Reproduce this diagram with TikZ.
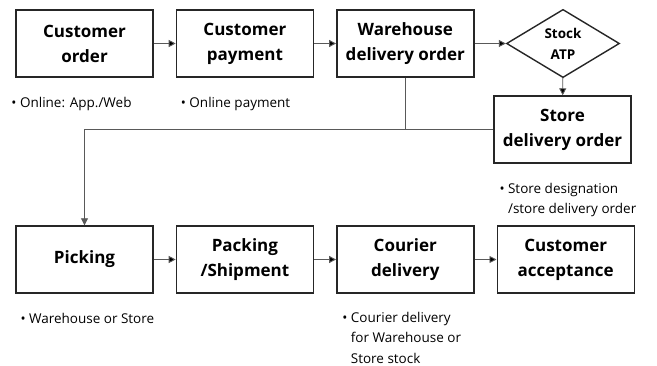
\documentclass[tikz,border=0pt]{standalone}
\usepackage{fontspec}
\setmainfont{Open Sans}
\usetikzlibrary{arrows.meta,positioning,shapes.geometric}
\tikzset{
    %Define standard arrow tip
    >={Triangle[length=7pt,width=7pt]},
    % Define arrow style
    pil/.style={
           ->,
           draw=black!65,
           line width=0.9pt,}
}

\begin{document}
\begin{tikzpicture}[
box/.style={rectangle, draw=black!85, line width=1.4pt, minimum width=137pt, minimum height=67pt, inner sep=0pt, align=center, font=\bfseries\fontsize{17}{25}\selectfont},
check/.style={diamond, draw=black!85, line width=1.4pt, minimum width=113pt, minimum height=67pt, inner sep=0pt, align=center, font=\bfseries\fontsize{13.5}{21}\selectfont},
note/.style={anchor=north west, align=left, inner sep=0pt, font=\fontsize{13.5}{20.5}\selectfont},
node distance=22pt,
]
\useasboundingbox (0pt,0pt) rectangle (657pt,-366pt);
%Nodes
\node[box](order) at (84.5pt,-43.5pt){Customer\\order};
\node[box](pay)[right=of order]{Customer\\payment};
\node[box](wh)[right=of pay]{Warehouse\\delivery order};
\node[check](atp) at (563pt,-43.5pt){Stock\\ATP};
\node[box](store) at (562.5pt,-129.5pt){Store\\delivery order};

\node[box](pick) at (84.5pt,-259.5pt){Picking};
\node[box](pack)[right=of pick]{Packing\\/Shipment};
\node[box](courier)[right=of pack]{Courier\\delivery};
\node[box](accept)[right=of courier]{Customer\\acceptance};

%Notes
\node[note] at ([xshift=-4pt,yshift=-19pt]order.south west){• Online: App./Web};
\node[note] at ([xshift=5pt,yshift=-19pt]pay.south west){• Online payment};
\node[note] at ([xshift=6pt,yshift=-19pt]store.south west){• Store designation\\\phantom{• }/store delivery order};
\node[note] at ([xshift=5pt,yshift=-19pt]pick.south west){• Warehouse or Store};
\node[note] at ([xshift=6pt,yshift=-18pt]courier.south west){• Courier delivery\\\phantom{• }for Warehouse or\\\phantom{• }Store stock};

%Connectors
\coordinate (join) at (wh.south |- store.west);
\path[pil] (order) edge (pay);
\path[pil] (pay) edge (wh);
\path[pil] (wh) edge (atp);
\path[pil] (atp) edge (store);
\draw[draw=black!65, line width=0.9pt] (wh.south) -- (join);
\draw[pil] (store.west) -| (pick.north);
\path[pil] (pick) edge (pack);
\path[pil] (pack) edge (courier);
\path[pil] (courier) edge (accept);

\end{tikzpicture}
\end{document}
